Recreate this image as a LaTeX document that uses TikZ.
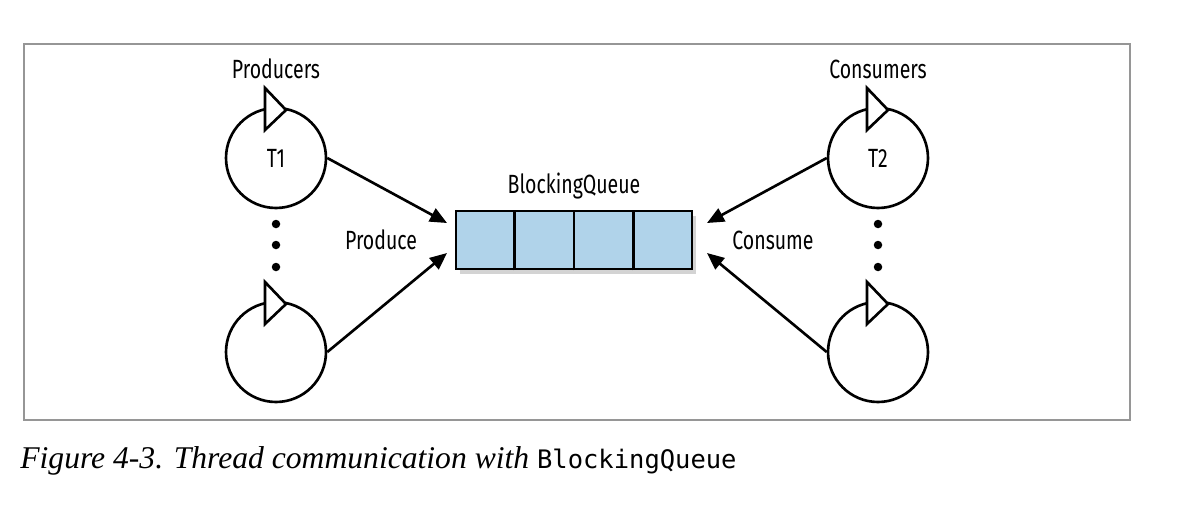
\documentclass[tikz,border=0pt]{standalone}
\usepackage{fontspec}
\setmainfont{Liberation Serif}
\setmonofont{DejaVu Sans Mono}
\newfontfamily\labelfont{Fira Sans}[FakeStretch=0.74]
\usetikzlibrary{arrows.meta,shadows,calc}

\definecolor{queueblue}{RGB}{176,211,234}
\definecolor{framegray}{RGB}{150,150,150}

\tikzset{
  thread/.style={circle, draw, line width=1.5pt, minimum size=2cm, inner sep=0pt,
    font=\labelfont\fontsize{15}{17}\selectfont},
  tick/.style={draw, fill=white, line width=1.5pt, line join=miter},
  flow/.style={-{Triangle[length=0.34cm,width=0.29cm]}, line width=1.5pt},
  lbl/.style={font=\labelfont\fontsize{15}{17}\selectfont, inner sep=0pt},
}

\begin{document}
\begin{tikzpicture}[x=0.02cm, y=-0.02cm]
  \useasboundingbox (0,0) rectangle (1182,504);

  % frame
  \draw[framegray, line width=1.1pt] (24,44) rectangle (1130,420);

  % threads
  \node[thread] (t1) at (276,158) {T1};
  \node[thread] (p2) at (276,352) {};
  \node[thread] (t2) at (878,158) {T2};
  \node[thread] (c2) at (878,352) {};

  % little triangles on top of the threads
  \foreach \t in {t1,p2,t2,c2}
    \draw[tick] ($(\t.center)+(-11,-70)$) -- ($(\t.center)+(-11,-28)$)
      -- ($(\t.center)+(10,-48)$) -- cycle;

  % dots between threads
  \foreach \t in {t1,t2}
    \foreach \dy in {66,87,109}
      \fill ($(\t.center)+(0,\dy)$) circle (0.085cm);

  % group labels
  \node[lbl] (prod) at (276,69) {Producers};
  \node[lbl] (cons) at (878,69) {Consumers};

  % queue
  \node[draw, fill=queueblue, line width=1.5pt, minimum width=4.72cm, minimum height=1.16cm,
    drop shadow={shadow xshift=2pt, shadow yshift=-3pt, opacity=0.35}] (queue) at (574,240) {};
  \foreach \i in {1,2,3}
    \draw[line width=1.5pt] ($(queue.south west)!\i/4!(queue.south east)$)
      -- ($(queue.north west)!\i/4!(queue.north east)$);
  \node[lbl, anchor=south] (qname) at ($(queue.north)+(0,-10)$) {BlockingQueue};

  % arrows in and out
  \coordinate (in1) at (447,223);
  \coordinate (in2) at (447,253);
  \coordinate (out1) at (707,223);
  \coordinate (out2) at (707,253);
  \draw[flow] (t1.east) -- (in1);
  \draw[flow] (p2.east) -- (in2);
  \draw[flow] (t2.west) -- (out1);
  \draw[flow] (c2.west) -- (out2);

  \node[lbl] (produce) at (381,240) {Produce};
  \node[lbl] (consume) at (773,240) {Consume};

  % caption
  \node[anchor=base west, inner sep=0pt, font=\fontsize{18}{21}\selectfont] (caption) at (20,468)
    {\textit{Figure 4-3. Thread communication with} \texttt{\fontsize{14.5}{18}\selectfont BlockingQueue}};
\end{tikzpicture}
\end{document}
